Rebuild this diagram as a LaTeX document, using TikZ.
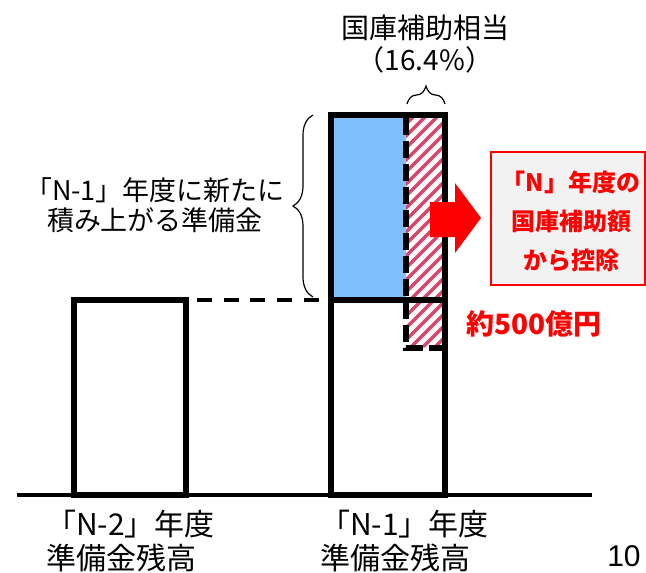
\documentclass[tikz,border=0pt]{standalone}
\usepackage{fontspec}
\setmainfont{Noto Sans CJK JP}
\newfontfamily\latinfont{Liberation Sans}
\usetikzlibrary{decorations.pathreplacing}
\definecolor{barblue}{RGB}{127,191,255}
\definecolor{hatchred}{RGB}{218,68,104}
\definecolor{boxgray}{RGB}{242,242,242}
\begin{document}
\begin{tikzpicture}[x=1pt,y=-1pt,
  wall/.style={draw=black,line width=6pt,inner sep=0pt,outer sep=0pt},
  bracepath/.style={decorate,line width=1.2pt},
  plaintext/.style={inner sep=0pt,align=center,text=black},
  redtext/.style={inner sep=0pt,align=center,text=red,font=\bfseries}]
\useasboundingbox (0,0) rectangle (646,573);
\fill[white] (0,0) rectangle (646,573);

% filled parts
\fill[barblue] (331,114.5) rectangle (406,300);
\begin{scope}
  \clip (406,114.5) rectangle (444.5,300) (406,300) rectangle (444.5,347.5);
  \foreach \k in {-2,...,26}
    \draw[hatchred,line width=3.4pt] (400,130+\k*12) -- ++(60,-60);
\end{scope}

% baseline
\coordinate (axisL) at (17,495);
\coordinate (axisR) at (592,495);
\draw[line width=4pt] (axisL) -- (axisR);

% bars
\node[wall,minimum width=112.5,minimum height=195,anchor=north west] (prev) at (73.5,300) {};
\node[wall,minimum width=113.5,minimum height=195,anchor=north west] (curr) at (331,300) {};
\node[wall,minimum width=113.5,minimum height=185.5,anchor=north west] (added) at (331,114.5) {};

% dashed lines
\draw[line width=4pt,dash pattern=on 15pt off 11.7pt,shorten <=11pt,shorten >=4pt]
  (prev.north east) -- (curr.north west);
\coordinate (splitTop) at (406,117.5);
\coordinate (splitCorner) at (406,347.5);
\coordinate (splitEnd) at (444.5,347.5);
\draw[line width=6pt,dash pattern=on 17pt off 6pt] (splitTop) -- (splitCorner) -- (splitEnd);

% deduction box and arrow
\node[draw=red,line width=2pt,fill=boxgray,minimum width=154,minimum height=133,inner sep=0pt] (deduct) at (568,218.5) {};
\node[redtext,font=\bfseries\fontsize{24}{39}\selectfont] (deductText) at (571,221) {「N」年度の\\国庫補助額\\から控除};
\fill[red] (430,202) -- (455,202) -- (455,183) -- (481,218) -- (455,253) -- (455,237) -- (430,237) -- cycle;

% braces
\draw[bracepath,decoration={brace,amplitude=20pt}] (313,297) -- (313,115);
\draw[bracepath,decoration={brace,amplitude=18pt}] (407,104) -- (445,104);

% texts
\node[plaintext,font=\fontsize{28}{32}\selectfont] (topLabel) at (425,44) {国庫補助相当\\（16.4\%）};
\node[plaintext,font=\fontsize{27}{30}\selectfont] (leftLabel) at (155,205) {「N-1」年度に新たに\\積み上がる準備金};
\node[redtext,font=\bfseries\fontsize{28}{32}\selectfont] (amount) at (534,324) {約500億円};
\node[plaintext,align=left,anchor=west,font=\fontsize{30}{34}\selectfont] (prevLabel) at (46,541) {「N-2」年度\\準備金残高};
\node[plaintext,align=left,anchor=west,font=\fontsize{30}{34}\selectfont] (currLabel) at (320,541) {「N-1」年度\\準備金残高};
\node[plaintext,font=\latinfont\fontsize{30}{35}\selectfont] (pageNo) at (624,556) {10};
\end{tikzpicture}
\end{document}
